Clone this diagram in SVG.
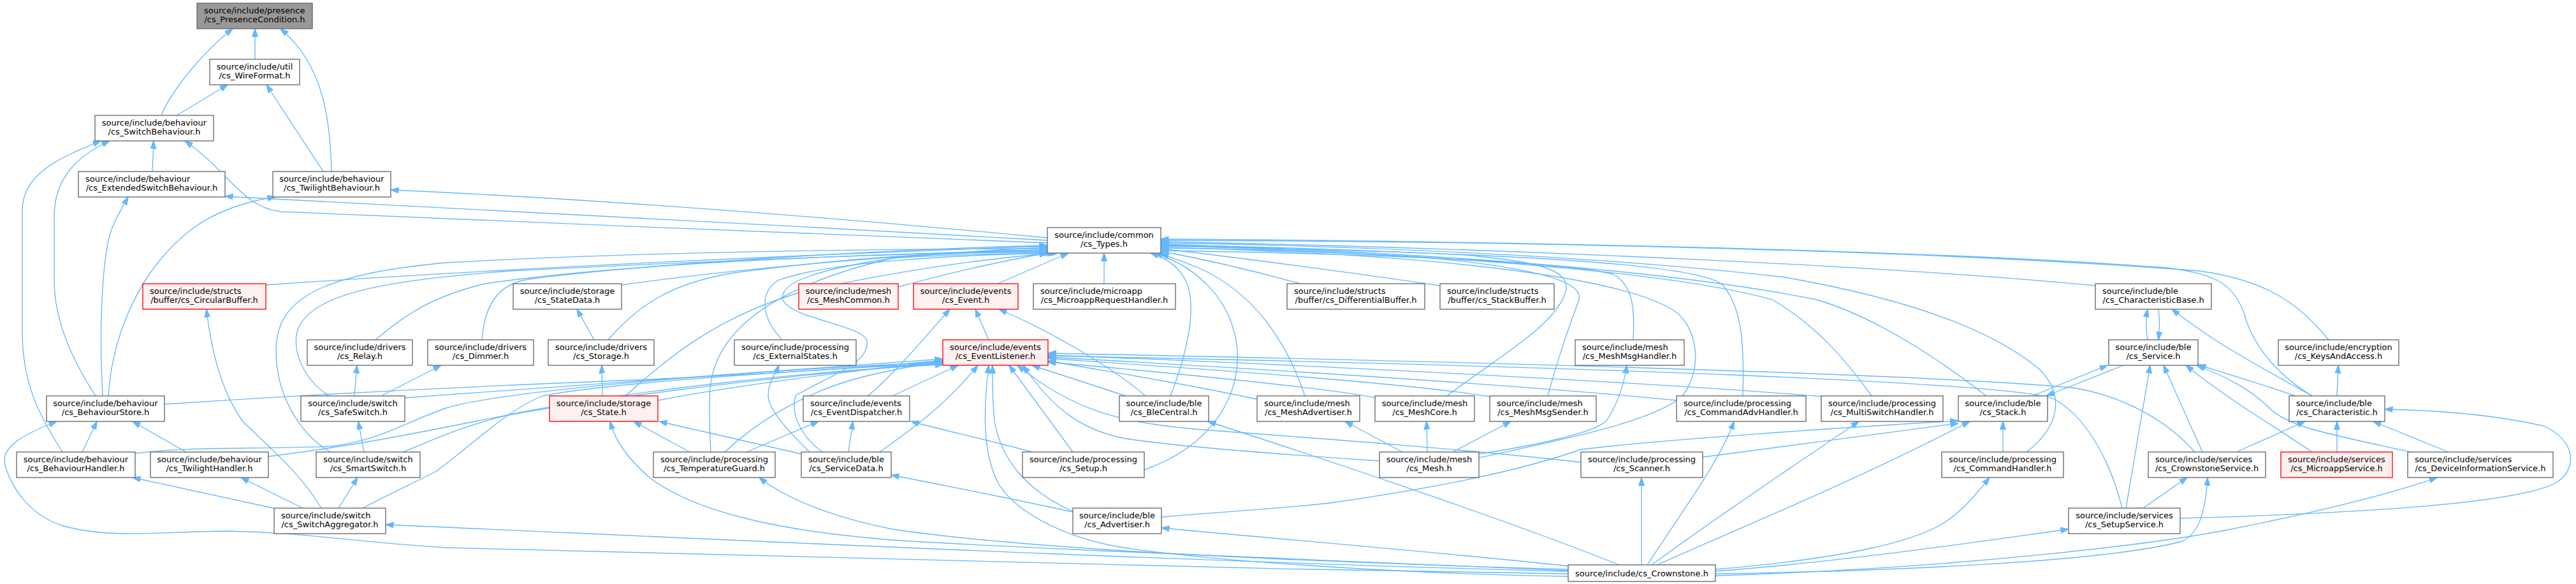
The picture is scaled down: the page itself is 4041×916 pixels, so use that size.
<svg xmlns="http://www.w3.org/2000/svg" width="4041" height="916" viewBox="0 0 4041 916">
<style>
.nd rect{fill:#ffffff;stroke:#666666;stroke-width:1.33}
.nd.red rect{fill:#fff0f0;stroke:#ff0000}
.nd.root rect{fill:#999999;stroke:#666666}
.nd text{font-family:"DejaVu Sans","Liberation Sans",sans-serif;font-size:13px;fill:#000000}
.nd text.m{text-anchor:middle}
#edges path{fill:none;stroke:#63b8ff;stroke-width:1.33;marker-end:url(#ah)}
</style>
<defs>
<marker id="ah" viewBox="0 0 13 10" markerWidth="13" markerHeight="10" refX="12.5" refY="5" orient="auto" markerUnits="userSpaceOnUse">
<path d="M0,0.5 L13,5 L0,9.5 z" fill="#63b8ff" stroke="#63b8ff" stroke-width="1"/>
</marker>
</defs>
<rect x="0" y="0" width="4041" height="916" fill="#ffffff"/>
<g id="edges">
<path d="M400,93 L400,45"/>
<path d="M253,181 C270,140 320,80 365,45"/>
<path d="M520,269 C518,180 505,100 440,45"/>
<path d="M277,181 L357,133"/>
<path d="M507,269 L418,133"/>
<path d="M239,269 L241,221"/>
<path d="M98,709 C60,650 35,600 35,520 L35,330 C35,270 100,245 158,221"/>
<path d="M150,621 C110,560 85,500 85,440 L85,340 C85,280 120,245 172,221"/>
<path d="M1643,381 C1300,365 800,350 440,332 C380,325 360,270 290,221"/>
<path d="M1643,377 C1200,352 700,325 353,308"/>
<path d="M1643,373 C1300,340 900,310 613,298"/>
<path d="M170,621 C175,540 210,430 300,360 C340,330 390,315 432,309"/>
<path d="M161,621 C155,520 160,400 175,360 C185,335 195,320 201,309"/>
<path d="M129,709 L152,661"/>
<path d="M292,709 L208,661"/>
<path d="M2460,900 C1800,890 1000,870 700,859 C550,850 480,835 357,833 C250,834 170,845 100,825 C50,810 20,770 8,730 C0,700 40,680 89,661"/>
<path d="M2460,896 C1800,880 900,835 605,823"/>
<path d="M429,797 L208,749"/>
<path d="M475,797 L378,749"/>
<path d="M504,797 C470,740 420,700 380,660 C345,610 330,540 324,485"/>
<path d="M531,797 L561,749"/>
<path d="M569,797 C610,775 650,757 683,740 C750,690 800,640 852,621 C950,600 1300,578 1479,570"/>
<path d="M571,709 L562,661"/>
<path d="M556,621 L560,573"/>
<path d="M598,621 L692,573"/>
<path d="M518,709 C470,680 433,620 433,550 C433,470 500,430 700,412 C1000,395 1400,390 1643,390"/>
<path d="M516,621 C470,590 455,540 470,510 C500,460 600,440 800,425 C1200,405 1500,395 1643,394"/>
<path d="M417,447 C800,420 1300,398 1643,386"/>
<path d="M589,533 C640,490 680,465 760,445 C1000,410 1400,398 1643,392"/>
<path d="M756,533 C760,480 780,445 830,438 C1000,415 1400,390 1643,385"/>
<path d="M975,447 C1200,415 1500,395 1643,388"/>
<path d="M954,533 C1000,480 1050,445 1150,428 C1350,402 1500,394 1643,396"/>
<path d="M932,533 L905,485"/>
<path d="M1227,533 C1195,500 1190,460 1220,440 C1300,410 1500,400 1650,397"/>
<path d="M945,621 L944,573"/>
<path d="M981,621 C1050,560 1120,500 1250,460 C1400,425 1550,405 1655,397"/>
<path d="M1032,628 C1150,605 1350,580 1479,566"/>
<path d="M1082,709 L994,661"/>
<path d="M1257,712 L1034,661"/>
<path d="M2460,895 C2000,875 1600,860 1400,847 C1250,835 1100,810 1020,750 C980,715 965,690 957,661"/>
<path d="M1171,709 L1284,661"/>
<path d="M1331,709 L1338,661"/>
<path d="M1380,709 C1420,680 1480,640 1534,573"/>
<path d="M1270,709 C1230,670 1205,640 1205,620 C1205,600 1215,590 1222,573"/>
<path d="M1290,709 C1250,680 1240,640 1249,620 C1300,590 1365,570 1360,535 C1355,510 1240,500 1228,470 C1220,440 1300,420 1400,405 C1500,398 1600,398 1660,397"/>
<path d="M1115,709 C1112,650 1112,620 1115,600 C1130,500 1250,440 1400,405 C1500,395 1600,392 1643,392"/>
<path d="M1137,709 C1200,650 1280,610 1350,592 C1400,580 1440,572 1479,567"/>
<path d="M1400,621 L1503,573"/>
<path d="M1361,621 C1400,590 1450,530 1490,485"/>
<path d="M1551,533 L1530,485"/>
<path d="M1797,621 C1750,580 1650,520 1567,485"/>
<path d="M1565,445 L1676,397"/>
<path d="M1732,445 L1732,397"/>
<path d="M1409,450 C1500,425 1580,408 1643,397"/>
<path d="M2040,445 C1950,420 1880,405 1821,394"/>
<path d="M2259,448 C2100,425 1950,405 1821,390"/>
<path d="M1836,621 C1860,560 1880,480 1860,440 C1850,420 1830,405 1805,397"/>
<path d="M1795,737 C1900,700 1950,620 1940,540 C1930,470 1880,420 1812,397"/>
<path d="M2047,621 C2020,540 1970,460 1880,420 C1860,412 1840,405 1821,398"/>
<path d="M2270,621 C2350,560 2440,510 2455,460 C2470,420 2400,410 2300,400 C2100,390 1950,386 1821,385"/>
<path d="M2428,621 C2450,540 2470,490 2477,470 C2485,440 2400,420 2250,405 C2100,395 1950,390 1821,389"/>
<path d="M2562,533 C2565,480 2560,445 2530,430 C2450,410 2150,398 1821,393"/>
<path d="M2320,718 C2450,690 2600,660 2640,620 C2670,580 2665,520 2630,490 C2560,440 2300,400 1821,388"/>
<path d="M2734,621 C2736,550 2735,480 2700,445 C2650,410 2300,395 1821,386"/>
<path d="M2936,621 C2900,570 2850,510 2780,470 C2600,420 2200,398 1821,384"/>
<path d="M3116,621 C3050,570 2950,500 2850,470 C2600,420 2200,395 1821,383"/>
<path d="M3179,709 C3230,670 3240,620 3200,580 C3130,520 3000,470 2800,435 C2500,400 2100,385 1821,381"/>
<path d="M3287,448 C3000,420 2400,390 1821,379"/>
<path d="M3653,533 C3610,480 3560,440 3450,425 C3000,390 2300,378 1821,377"/>
<path d="M3627,621 C3560,580 3530,530 3520,490 C3500,440 3470,430 3400,420 C3000,390 2300,378 1821,375"/>
<path d="M3627,621 C3580,595 3500,550 3470,530 C3440,510 3420,495 3407,485"/>
<path d="M3601,621 C3540,600 3490,585 3448,572"/>
<path d="M3666,621 L3668,573"/>
<path d="M3666,709 L3666,661"/>
<path d="M3841,709 L3723,661"/>
<path d="M3508,709 L3616,661"/>
<path d="M3627,709 C3570,670 3500,630 3429,573"/>
<path d="M3782,709 C3650,680 3590,670 3560,640 C3530,610 3490,590 3446,573"/>
<path d="M3455,709 L3394,573"/>
<path d="M3335,797 L3373,573"/>
<path d="M3362,797 L3431,749"/>
<path d="M3420,813 C3700,805 3950,790 4010,757 C4045,735 4040,690 3990,668 C3900,648 3800,643 3741,642"/>
<path d="M3188,621 L3306,573"/>
<path d="M3331,573 L3210,621"/>
<path d="M3369,533 C3366,515 3366,500 3369,485"/>
<path d="M3386,485 C3388,500 3388,515 3386,533"/>
<path d="M3142,709 L3142,661"/>
<path d="M2691,893 C2900,875 3000,850 3050,820 C3080,800 3100,775 3121,749"/>
<path d="M2691,896 C2900,880 3100,850 3245,830"/>
<path d="M2691,900 C3000,895 3300,880 3420,850 C3450,840 3460,800 3463,749"/>
<path d="M2691,903 C3100,890 3400,850 3500,830 C3650,800 3750,775 3823,749"/>
<path d="M2575,886 L2575,749"/>
<path d="M2584,886 C2640,800 2700,720 2720,661"/>
<path d="M2591,886 C2680,820 2800,740 2916,661"/>
<path d="M2600,886 C2700,840 2900,760 3090,661"/>
<path d="M2540,886 C2400,830 2200,760 1895,661"/>
<path d="M2460,888 C2300,870 2000,845 1822,828"/>
<path d="M2460,904 C2200,900 1900,880 1757,858 C1680,845 1600,810 1567,760 C1540,710 1543,640 1551,573"/>
<path d="M1683,802 C1610,770 1570,720 1560,660 C1556,620 1557,590 1557,573"/>
<path d="M1822,811 C1950,800 2050,795 2100,787 C2250,765 2380,740 2480,705 C2600,690 2900,670 3072,660"/>
<path d="M2671,717 C2800,700 2950,680 3072,664"/>
<path d="M2480,725 C2300,705 2100,690 1900,675 C1750,665 1680,640 1596,573"/>
<path d="M1683,709 L1583,573"/>
<path d="M1766,621 L1619,573"/>
<path d="M2164,723 C2000,712 1850,700 1780,690 C1700,680 1650,640 1605,573"/>
<path d="M1619,709 C1550,690 1480,675 1429,661"/>
<path d="M2200,709 L2110,661"/>
<path d="M2239,709 L2238,661"/>
<path d="M2279,709 L2370,661"/>
<path d="M2320,712 C2400,700 2500,680 2520,660 C2540,630 2548,600 2552,573"/>
<path d="M1971,626 C1850,600 1750,585 1644,566"/>
<path d="M2158,624 C2100,612 1900,590 1644,568"/>
<path d="M2337,622 C2200,600 1900,580 1644,562"/>
<path d="M2631,628 C2400,605 2000,580 1644,560"/>
<path d="M2857,622 C2600,600 2000,570 1644,557"/>
<path d="M3443,709 C3400,660 3330,620 3250,608 C3000,585 2200,565 1644,554"/>
<path d="M3329,797 C3310,720 3270,650 3220,625 C3150,600 2500,575 1644,558"/>
<path d="M258,634 C500,618 700,608 900,600 C1150,590 1350,578 1479,565"/>
<path d="M635,624 C800,610 1100,590 1479,563"/>
<path d="M212,711 C300,700 400,705 520,700 C600,690 640,660 700,640 C800,610 1200,580 1479,568"/>
<path d="M421,716 C550,700 650,680 750,660 C900,630 1200,590 1479,570"/>
<path d="M632,709 C680,690 720,670 800,650 C1000,610 1300,580 1479,572"/>
<path d="M2460,893 C2000,880 1600,860 1400,830 C1300,810 1230,780 1191,749"/>
<path d="M1683,803 C1600,785 1500,765 1398,745"/>
</g>
<g id="n_pc" class="nd root"><rect x="309" y="5" width="181" height="40"/><text x="320" y="21">source/include/presence</text><text class="m" x="399.5" y="35">/cs_PresenceCondition.h</text></g>
<g id="n_wf" class="nd"><rect x="329" y="93" width="141" height="40"/><text class="m" x="399.5" y="109">source/include/util</text><text class="m" x="399.5" y="123">/cs_WireFormat.h</text></g>
<g id="n_sb" class="nd"><rect x="149" y="181" width="186" height="40"/><text class="m" x="242" y="197">source/include/behaviour</text><text class="m" x="242" y="211">/cs_SwitchBehaviour.h</text></g>
<g id="n_esb" class="nd"><rect x="123" y="269" width="230" height="40"/><text x="134" y="285">source/include/behaviour</text><text class="m" x="238" y="299">/cs_ExtendedSwitchBehaviour.h</text></g>
<g id="n_tb" class="nd"><rect x="428" y="269" width="185" height="40"/><text class="m" x="520.5" y="285">source/include/behaviour</text><text class="m" x="520.5" y="299">/cs_TwilightBehaviour.h</text></g>
<g id="n_types" class="nd"><rect x="1643" y="357" width="178" height="40"/><text class="m" x="1732" y="373">source/include/common</text><text class="m" x="1732" y="387">/cs_Types.h</text></g>
<g id="n_cb" class="nd red"><rect x="224" y="445" width="193" height="40"/><text x="235" y="461">source/include/structs</text><text class="m" x="320.5" y="475">/buffer/cs_CircularBuffer.h</text></g>
<g id="n_sd" class="nd"><rect x="805" y="445" width="170" height="40"/><text class="m" x="890" y="461">source/include/storage</text><text class="m" x="890" y="475">/cs_StateData.h</text></g>
<g id="n_mc" class="nd red"><rect x="1253" y="445" width="156" height="40"/><text class="m" x="1331" y="461">source/include/mesh</text><text class="m" x="1331" y="475">/cs_MeshCommon.h</text></g>
<g id="n_ev" class="nd red"><rect x="1433" y="445" width="164" height="40"/><text class="m" x="1515" y="461">source/include/events</text><text class="m" x="1515" y="475">/cs_Event.h</text></g>
<g id="n_mrh" class="nd"><rect x="1621" y="445" width="223" height="40"/><text x="1632" y="461">source/include/microapp</text><text class="m" x="1732.5" y="475">/cs_MicroappRequestHandler.h</text></g>
<g id="n_db" class="nd"><rect x="2019" y="445" width="216" height="40"/><text x="2030" y="461">source/include/structs</text><text class="m" x="2127" y="475">/buffer/cs_DifferentialBuffer.h</text></g>
<g id="n_sbuf" class="nd"><rect x="2259" y="445" width="179" height="40"/><text x="2270" y="461">source/include/structs</text><text class="m" x="2348.5" y="475">/buffer/cs_StackBuffer.h</text></g>
<g id="n_cbase" class="nd"><rect x="3287" y="445" width="182" height="40"/><text x="3298" y="461">source/include/ble</text><text class="m" x="3378" y="475">/cs_CharacteristicBase.h</text></g>
<g id="n_relay" class="nd"><rect x="482" y="533" width="165" height="40"/><text class="m" x="564.5" y="549">source/include/drivers</text><text class="m" x="564.5" y="563">/cs_Relay.h</text></g>
<g id="n_dim" class="nd"><rect x="671" y="533" width="166" height="40"/><text class="m" x="754" y="549">source/include/drivers</text><text class="m" x="754" y="563">/cs_Dimmer.h</text></g>
<g id="n_sto" class="nd"><rect x="860" y="533" width="166" height="40"/><text class="m" x="943" y="549">source/include/drivers</text><text class="m" x="943" y="563">/cs_Storage.h</text></g>
<g id="n_es" class="nd"><rect x="1152" y="533" width="191" height="40"/><text class="m" x="1247.5" y="549">source/include/processing</text><text class="m" x="1247.5" y="563">/cs_ExternalStates.h</text></g>
<g id="n_el" class="nd red"><rect x="1479" y="533" width="165" height="40"/><text class="m" x="1561.5" y="549">source/include/events</text><text class="m" x="1561.5" y="563">/cs_EventListener.h</text></g>
<g id="n_mmh" class="nd"><rect x="2471" y="533" width="171" height="40"/><text x="2482" y="549">source/include/mesh</text><text class="m" x="2556.5" y="563">/cs_MeshMsgHandler.h</text></g>
<g id="n_svc" class="nd"><rect x="3308" y="533" width="140" height="40"/><text class="m" x="3378" y="549">source/include/ble</text><text class="m" x="3378" y="563">/cs_Service.h</text></g>
<g id="n_ka" class="nd"><rect x="3574" y="533" width="189" height="40"/><text class="m" x="3668.5" y="549">source/include/encryption</text><text class="m" x="3668.5" y="563">/cs_KeysAndAccess.h</text></g>
<g id="n_bs" class="nd"><rect x="73" y="621" width="185" height="40"/><text class="m" x="165.5" y="637">source/include/behaviour</text><text class="m" x="165.5" y="651">/cs_BehaviourStore.h</text></g>
<g id="n_ss" class="nd"><rect x="472" y="621" width="163" height="40"/><text class="m" x="553.5" y="637">source/include/switch</text><text class="m" x="553.5" y="651">/cs_SafeSwitch.h</text></g>
<g id="n_st" class="nd red"><rect x="862" y="621" width="170" height="40"/><text class="m" x="947" y="637">source/include/storage</text><text class="m" x="947" y="651">/cs_State.h</text></g>
<g id="n_ed" class="nd"><rect x="1260" y="621" width="167" height="40"/><text x="1271" y="637">source/include/events</text><text class="m" x="1343.5" y="651">/cs_EventDispatcher.h</text></g>
<g id="n_bc" class="nd"><rect x="1756" y="621" width="140" height="40"/><text class="m" x="1826" y="637">source/include/ble</text><text class="m" x="1826" y="651">/cs_BleCentral.h</text></g>
<g id="n_ma" class="nd"><rect x="1972" y="621" width="161" height="40"/><text x="1983" y="637">source/include/mesh</text><text class="m" x="2052.5" y="651">/cs_MeshAdvertiser.h</text></g>
<g id="n_mcore" class="nd"><rect x="2157" y="621" width="156" height="40"/><text class="m" x="2235" y="637">source/include/mesh</text><text class="m" x="2235" y="651">/cs_MeshCore.h</text></g>
<g id="n_mms" class="nd"><rect x="2337" y="621" width="167" height="40"/><text x="2348" y="637">source/include/mesh</text><text class="m" x="2420.5" y="651">/cs_MeshMsgSender.h</text></g>
<g id="n_cah" class="nd"><rect x="2630" y="621" width="203" height="40"/><text x="2641" y="637">source/include/processing</text><text class="m" x="2731.5" y="651">/cs_CommandAdvHandler.h</text></g>
<g id="n_msh" class="nd"><rect x="2857" y="621" width="191" height="40"/><text x="2868" y="637">source/include/processing</text><text class="m" x="2952.5" y="651">/cs_MultiSwitchHandler.h</text></g>
<g id="n_stack" class="nd"><rect x="3072" y="621" width="140" height="40"/><text class="m" x="3142" y="637">source/include/ble</text><text class="m" x="3142" y="651">/cs_Stack.h</text></g>
<g id="n_char" class="nd"><rect x="3591" y="621" width="150" height="40"/><text x="3602" y="637">source/include/ble</text><text class="m" x="3666" y="651">/cs_Characteristic.h</text></g>
<g id="n_bh" class="nd"><rect x="26" y="709" width="186" height="40"/><text class="m" x="119" y="725">source/include/behaviour</text><text class="m" x="119" y="739">/cs_BehaviourHandler.h</text></g>
<g id="n_th" class="nd"><rect x="236" y="709" width="185" height="40"/><text class="m" x="328.5" y="725">source/include/behaviour</text><text class="m" x="328.5" y="739">/cs_TwilightHandler.h</text></g>
<g id="n_smart" class="nd"><rect x="496" y="709" width="163" height="40"/><text class="m" x="577.5" y="725">source/include/switch</text><text class="m" x="577.5" y="739">/cs_SmartSwitch.h</text></g>
<g id="n_tg" class="nd"><rect x="1025" y="709" width="191" height="40"/><text class="m" x="1120.5" y="725">source/include/processing</text><text class="m" x="1120.5" y="739">/cs_TemperatureGuard.h</text></g>
<g id="n_svd" class="nd"><rect x="1257" y="709" width="141" height="40"/><text x="1268" y="725">source/include/ble</text><text class="m" x="1327.5" y="739">/cs_ServiceData.h</text></g>
<g id="n_setup" class="nd"><rect x="1604" y="709" width="191" height="40"/><text class="m" x="1699.5" y="725">source/include/processing</text><text class="m" x="1699.5" y="739">/cs_Setup.h</text></g>
<g id="n_mesh" class="nd"><rect x="2164" y="709" width="156" height="40"/><text class="m" x="2242" y="725">source/include/mesh</text><text class="m" x="2242" y="739">/cs_Mesh.h</text></g>
<g id="n_scan" class="nd"><rect x="2480" y="709" width="191" height="40"/><text class="m" x="2575.5" y="725">source/include/processing</text><text class="m" x="2575.5" y="739">/cs_Scanner.h</text></g>
<g id="n_ch" class="nd"><rect x="3046" y="709" width="191" height="40"/><text class="m" x="3141.5" y="725">source/include/processing</text><text class="m" x="3141.5" y="739">/cs_CommandHandler.h</text></g>
<g id="n_cs" class="nd"><rect x="3370" y="709" width="184" height="40"/><text x="3381" y="725">source/include/services</text><text class="m" x="3462" y="739">/cs_CrownstoneService.h</text></g>
<g id="n_ms" class="nd red"><rect x="3578" y="709" width="175" height="40"/><text class="m" x="3665.5" y="725">source/include/services</text><text class="m" x="3665.5" y="739">/cs_MicroappService.h</text></g>
<g id="n_dis" class="nd"><rect x="3777" y="709" width="228" height="40"/><text x="3788" y="725">source/include/services</text><text class="m" x="3891" y="739">/cs_DeviceInformationService.h</text></g>
<g id="n_sa" class="nd"><rect x="430" y="797" width="175" height="40"/><text x="441" y="813">source/include/switch</text><text class="m" x="517.5" y="827">/cs_SwitchAggregator.h</text></g>
<g id="n_adv" class="nd"><rect x="1683" y="797" width="139" height="40"/><text class="m" x="1752.5" y="813">source/include/ble</text><text class="m" x="1752.5" y="827">/cs_Advertiser.h</text></g>
<g id="n_sets" class="nd"><rect x="3245" y="797" width="175" height="40"/><text class="m" x="3332.5" y="813">source/include/services</text><text class="m" x="3332.5" y="827">/cs_SetupService.h</text></g>
<g id="n_crown" class="nd"><rect x="2460" y="886" width="231" height="26"/><text class="m" x="2575.5" y="903.5">source/include/cs_Crownstone.h</text></g>
</svg>
